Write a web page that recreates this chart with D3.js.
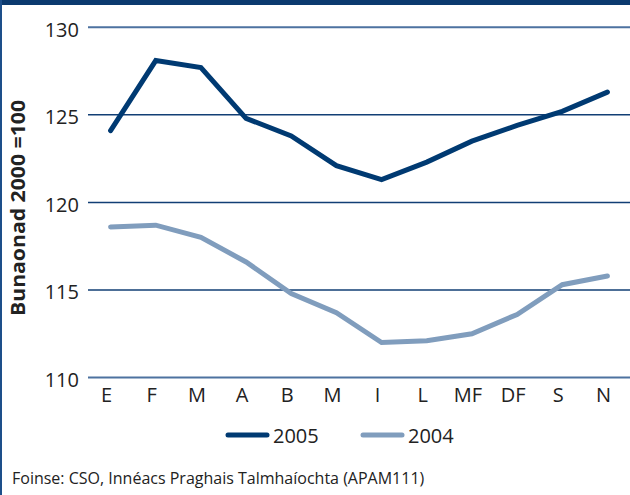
<!DOCTYPE html>
<html><head><meta charset="utf-8">
<script src="https://cdn.jsdelivr.net/npm/d3@7"></script>
<style>
html,body{margin:0;padding:0;background:#fff;}
svg{display:block;}
text{font-family:"Open Sans",sans-serif;fill:#222;}
</style></head>
<body><svg id="c" width="630" height="495"></svg>
<script>
const months = ["E","F","M","A","B","M","I","L","MF","DF","S","N"];
const series2005 = [124.1,128.1,127.7,124.8,123.8,122.1,121.3,122.3,123.5,124.4,125.2,126.3];
const series2004 = [118.6,118.7,118.0,116.6,114.8,113.7,112.0,112.1,112.5,113.6,115.3,115.8];
const yTicks = [110,115,120,125,130];
const seriesNames = ["2005","2004"];
const seriesColors = ["#003a72","#809dbd"];
const yTitle = "Bunaonad 2000 =100";
const source = "Foinse: CSO, Innéacs Praghais Talmhaíochta (APAM111)";

const svg = d3.select("#c");
const W = 630, H = 495;
const x = d3.scaleBand().domain(d3.range(months.length)).range([88, 630]);
const y = d3.scaleLinear().domain([110,130]).range([377.5, 27.3]);

// frame
svg.append("rect").attr("x",0).attr("y",0).attr("width",W).attr("height",5).attr("fill","#0b3a6f");
svg.append("rect").attr("x",0).attr("y",0).attr("width",2).attr("height",H).attr("fill","#1d4f8a");

// grid
svg.append("g").selectAll("line").data(yTicks).join("line")
  .attr("x1",88).attr("x2",630)
  .attr("y1",d=>y(d)).attr("y2",d=>y(d))
  .attr("stroke",d=>(d===110||d===130)?"#4d72a0":"#123f75")
  .attr("stroke-width",d=>(d===110||d===130)?2:1.5);

// y axis labels
const yAxis = d3.axisLeft(y).tickValues(yTicks).tickSize(0).tickPadding(0);
const gy = svg.append("g").attr("transform","translate(79,0)").call(yAxis);
gy.select(".domain").remove();
gy.selectAll("text").attr("font-size",20).attr("font-family","'Open Sans',sans-serif").attr("fill","#222").attr("dy","0.45em");

// x axis labels
const xAxis = d3.axisBottom(x).tickFormat(i=>months[i]).tickSize(0).tickPadding(0);
const gx = svg.append("g").attr("transform","translate(-4,388)").call(xAxis);
gx.select(".domain").remove();
gx.selectAll("text").attr("font-size",20).attr("font-family","'Open Sans',sans-serif").attr("fill","#222").attr("dy","0.72em");

// lines
const line = d3.line().x((d,i)=>x(i)+x.bandwidth()/2).y(d=>y(d));
[series2004, series2005].forEach((s,k)=>{
  const col = k===0 ? seriesColors[1] : seriesColors[0];
  svg.append("path").datum(s).attr("d",line).attr("fill","none")
    .attr("stroke",col).attr("stroke-width",5).attr("stroke-linecap","round").attr("stroke-linejoin","miter");
});

// y title
svg.append("text").attr("transform","translate(25,208) rotate(-90)")
  .attr("text-anchor","middle").attr("font-size",19.5).attr("font-weight","bold")
  .attr("textLength",216).attr("lengthAdjust","spacingAndGlyphs").text(yTitle);

// legend
const legX = [228, 363];
seriesNames.forEach((n,i)=>{
  svg.append("line").attr("x1",legX[i]).attr("x2",legX[i]+39).attr("y1",435).attr("y2",435)
    .attr("stroke",seriesColors[i]).attr("stroke-width",5).attr("stroke-linecap","round");
  svg.append("text").attr("x",legX[i]+45).attr("y",443).attr("font-size",20).text(n);
});

// source
svg.append("text").attr("x",12).attr("y",484).attr("font-size",16).text(source);
</script></body></html>
